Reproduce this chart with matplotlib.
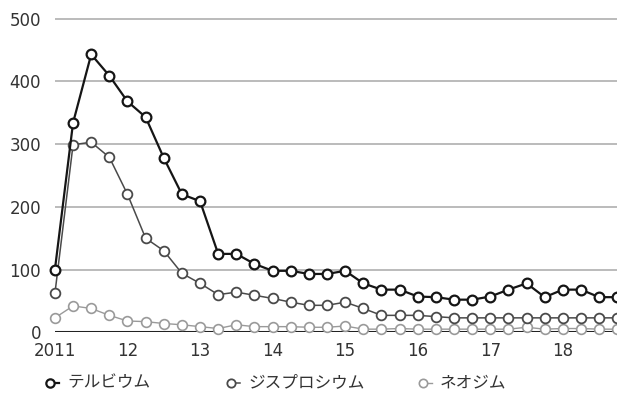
import numpy as np
import matplotlib
matplotlib.use('Agg')
import matplotlib.pyplot as plt
from matplotlib.lines import Line2D

plt.rcParams['font.family'] = ['Noto Sans CJK JP', 'DejaVu Sans']

# 四半期ごとの価格 (2011年〜2018年)
quarters = np.arange(2011, 2018.76, 0.25)
terbium = [100, 334, 443, 409, 368, 343, 278, 220, 209, 125, 125, 109, 98, 98, 93, 93,
           98, 78, 68, 68, 57, 56, 52, 52, 57, 68, 78, 56, 68, 68, 56, 56]
dysprosium = [62, 299, 303, 279, 220, 150, 130, 94, 78, 60, 64, 59, 54, 48, 43, 43,
              48, 38, 27, 27, 27, 25, 23, 23, 23, 23, 23, 23, 23, 23, 23, 23]
neodymium = [23, 42, 38, 27, 18, 17, 14, 12, 9, 6, 12, 9, 9, 9, 8, 8,
             10, 5, 5, 6, 5, 5, 5, 5, 5, 5, 8, 5, 6, 6, 5, 5]

names = ['テルビウム', 'ジスプロシウム', 'ネオジム']
year_ticks = [2011, 2012, 2013, 2014, 2015, 2016, 2017, 2018]
year_labels = ['2011', '12', '13', '14', '15', '16', '17', '18']
y_ticks = [0, 100, 200, 300, 400, 500]

W, H = 617, 404
fig = plt.figure(figsize=(W / 100, H / 100), dpi=100)
ax = fig.add_axes([0.089, 0.1775, 0.915, 0.781])

for y in y_ticks[1:]:
    ax.axhline(y, color='#bbbbbb', lw=1.4, zorder=0)
ax.axhline(0, color='#222222', lw=2.2, zorder=1)

styles = [('#151515', 1.6, 1.6), ('#4a4a4a', 1.1, 1.3), ('#9a9a9a', 1.0, 1.2)]
series = [terbium, dysprosium, neodymium]
for vals, (c, lw, mew) in zip(series[::-1], styles[::-1]):
    ax.plot(quarters, vals, '-o', color=c, lw=lw, ms=7, mfc='white', mec=c,
            mew=mew, clip_on=False, zorder=3)

ax.set_xlim(2011, 2018.78)
ax.set_ylim(0, 503)
ax.set_xticks(year_ticks)
ax.set_xticklabels(year_labels, family='DejaVu Sans')
ax.set_yticks(y_ticks)
ax.set_yticklabels([str(v) for v in y_ticks], family='DejaVu Sans')
ax.tick_params(length=0, labelsize=12, colors='#333333')
ax.tick_params(axis='y', pad=10)
ax.tick_params(axis='x', pad=7)
for s in ax.spines.values():
    s.set_visible(False)

# 凡例 (マーカー + 短い線)
leg_x = [50, 231, 423]
leg_y = 1 - 383 / H
for x0, name, (c, lw, mew) in zip(leg_x, names, styles):
    fig.add_artist(Line2D([x0 / W, (x0 + 9) / W], [leg_y, leg_y], color=c,
                          lw=lw, transform=fig.transFigure))
    fig.add_artist(Line2D([x0 / W], [leg_y], marker='o', ms=6, mfc='white',
                          mec=c, mew=mew, transform=fig.transFigure))
    fig.text((x0 + 17) / W, leg_y, name, fontsize=12, color='#333333',
             va='center', ha='left')

fig.savefig('out.png', dpi=100)
